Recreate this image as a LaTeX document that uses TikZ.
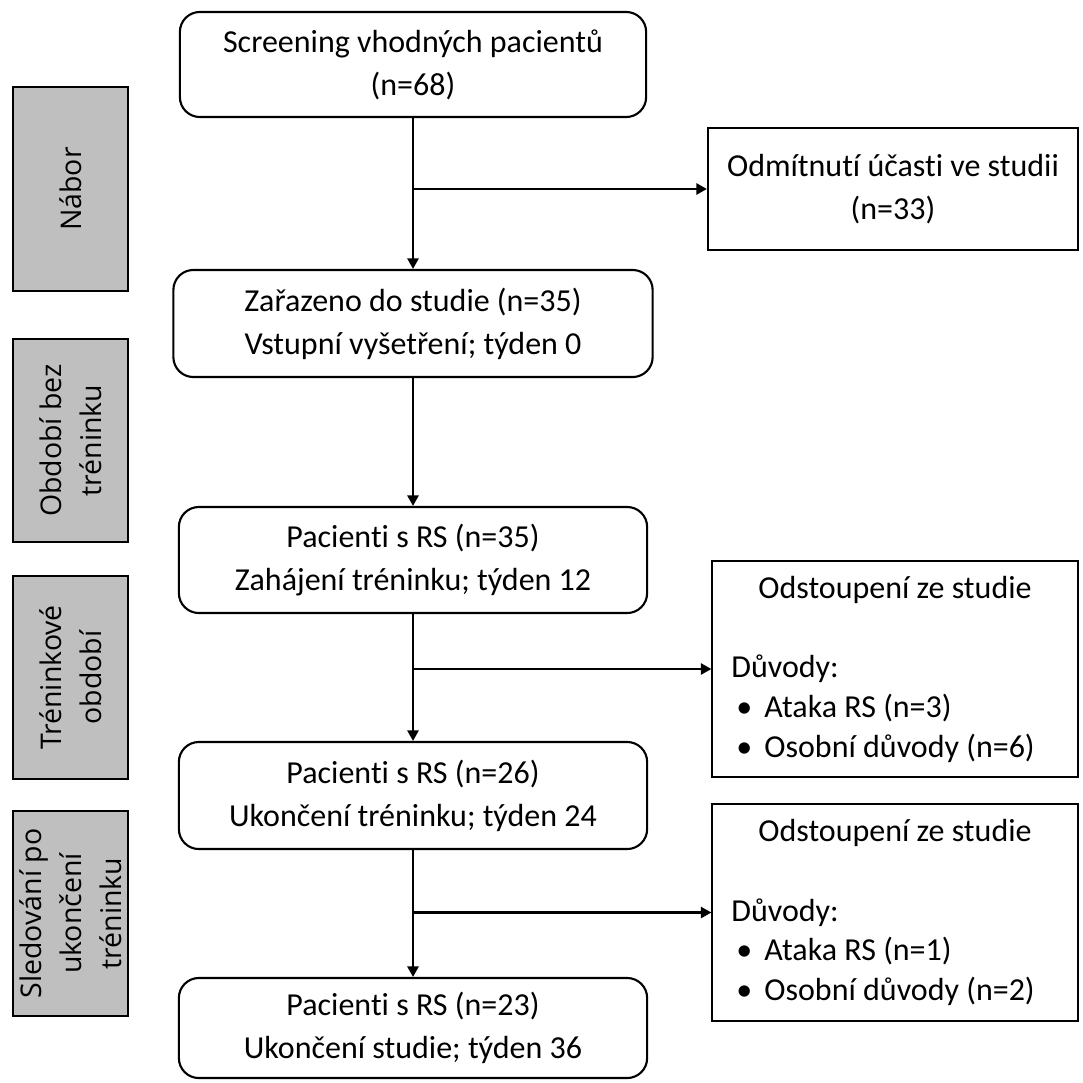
\documentclass[tikz,border=0pt]{standalone}
\usepackage{fontspec}
\setmainfont{Carlito}[Ligatures={NoCommon,NoRequired,NoContextual},Contextuals=NoAlternate]
\newfontfamily\sidefont{Open Sans}
\usepackage{tikz}
\usetikzlibrary{arrows.meta,positioning}
\definecolor{phasegray}{HTML}{BFBFBF}

\begin{document}
\begin{tikzpicture}[x=0.01cm,y=-0.01cm,>={Triangle[length=3pt,width=3.2pt]},
    line width=0.6pt,
    font=\fontsize{9.1}{12.2}\selectfont,
    mainbox/.style={draw,rounded corners=0.2cm,align=center,minimum width=4.68cm,minimum height=1.06cm,inner sep=0pt},
    sidebox/.style={draw,fill=phasegray,rotate=90,align=center,minimum height=1.15cm,inner sep=0pt,
      font=\sidefont\fontsize{8.1}{11.4}\selectfont},
    dropbox/.style={draw,minimum width=3.65cm,align=left,inner sep=0pt,
      font=\fontsize{9.1}{11.3}\selectfont}]
  \useasboundingbox (0,0) rectangle (1083,1082);
  \node[mainbox,minimum width=4.66cm,minimum height=1.05cm] (screen) at (413,64.5)
     {Screening vhodných pacientů\\(n=68)};
  \node[mainbox,minimum width=4.79cm,minimum height=1.07cm] (enrol) at (413,323.5)
     {Zařazeno do studie (n=35)\\Vstupní vyšetření; týden 0};
  \node[mainbox] (start) at (413,560)
     {Pacienti s RS (n=35)\\Zahájení tréninku; týden 12};
  \node[mainbox,minimum height=1.07cm] (endtr) at (413,795.5)
     {Pacienti s RS (n=26)\\Ukončení tréninku; týden 24};
  \node[mainbox,minimum height=1.00cm] (final) at (413,1028)
     {Pacienti s RS (n=23)\\Ukončení studie; týden 36};

  \node[sidebox,minimum width=2.04cm] (nabor) at (70.5,189) {Nábor};
  \node[sidebox,minimum width=2.03cm] (notrain) at (70.5,440.5) {Období bez\\tréninku};
  \node[sidebox,minimum width=2.03cm] (train) at (70.5,677.5) {Tréninkové\\období};
  \node[sidebox,minimum width=2.05cm] (follow) at (70.5,913.5) {Sledování po\\ukončení\\tréninku};

  \node[draw,align=center,minimum width=3.70cm,minimum height=1.22cm,inner sep=0pt] (refuse) at (893,189)
     {Odmítnutí účasti ve studii\\(n=33)};
  \node[dropbox,minimum height=2.16cm] (drop1) at (895,669)
     {\makebox[3.27cm][c]{Odstoupení ze studie}\\[11.3pt]
      Důvody:\\
      \hspace*{0.05cm}\makebox[0.28cm][l]{\textbullet}Ataka RS (n=3)\\
      \hspace*{0.05cm}\makebox[0.28cm][l]{\textbullet}Osobní důvody (n=6)};
  \node[dropbox,minimum height=2.17cm] (drop2) at (895,912.5)
     {\makebox[3.27cm][c]{Odstoupení ze studie}\\[11.3pt]
      Důvody:\\
      \hspace*{0.05cm}\makebox[0.28cm][l]{\textbullet}Ataka RS (n=1)\\
      \hspace*{0.05cm}\makebox[0.28cm][l]{\textbullet}Osobní důvody (n=2)};

  \draw[->] (screen) -- (enrol);
  \draw[->] (screen.south |- refuse) -- (refuse.west);
  \draw[->] (enrol) -- (start);
  \draw[->] (start) -- (endtr);
  \draw[->] (start.south |- drop1) -- (drop1.west);
  \draw[->] (endtr) -- (final);
  \draw[->] (endtr.south |- drop2) -- (drop2.west);
\end{tikzpicture}
\end{document}
